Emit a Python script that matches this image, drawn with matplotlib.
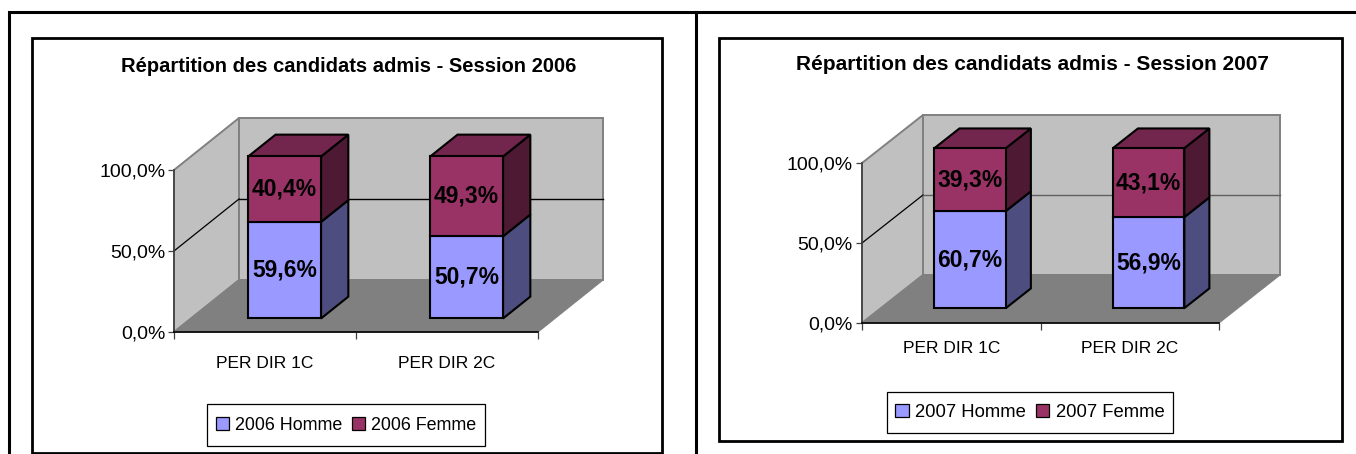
import matplotlib
matplotlib.use("Agg")
from matplotlib import pyplot as plt
from matplotlib.patches import Patch, Polygon, Rectangle

W, H = 1356, 454

categories = ["PER DIR 1C", "PER DIR 2C"]
homme_2006 = [59.6, 50.7]
femme_2006 = [40.4, 49.3]
homme_2007 = [60.7, 56.9]
femme_2007 = [39.3, 43.1]
y_ticks = [0, 50, 100]
y_tick_labels = ["0,0%", "50,0%", "100,0%"]

BLUE = "#9999FF"
BLUE_SIDE = "#4D4D80"
RED = "#993366"
RED_SIDE = "#4D1933"
RED_TOP = "#73264D"
WALL = "#C0C0C0"
FLOOR = "#808080"

plt.rcParams["font.family"] = ["Liberation Sans", "DejaVu Sans"]


def frac(x0, y0, x1, y1):
    # pixel box (y from the top) to figure fractions
    return [x0 / W, 1 - y1 / H, (x1 - x0) / W, (y1 - y0) / H]


class Oblique:
    """Fake 3D Excel look: depth d shifts a point right and up in data units."""
    def __init__(self, ax, dx, dy):
        self.ax = ax
        self.dx = dx
        self.dy = dy

    def pt(self, x, y, d):
        return (x + d * self.dx, y + d * self.dy)

    def poly(self, pts, color, ec="none", lw=0.0, z=1):
        xy = [self.pt(*p) for p in pts]
        self.ax.add_patch(Polygon(xy, closed=True, fc=color, ec=ec, lw=lw, zorder=z,
                                  clip_on=False, joinstyle="miter"))

    def bar(self, x0, x1, y0, y1, d0, d1, front, side, top=None, z=5):
        self.poly([(x1, y0, d0), (x1, y0, d1), (x1, y1, d1), (x1, y1, d0)], side, "black", 1.5, z)
        if top:
            self.poly([(x0, y1, d0), (x1, y1, d0), (x1, y1, d1), (x0, y1, d1)], top, "black", 1.5, z)
        self.poly([(x0, y0, d0), (x1, y0, d0), (x1, y1, d0), (x0, y1, d0)], front, "black", 1.5, z + 1)


def draw_chart(fig, bg, title, homme, femme, year, plot_box, depth_px, bar_depth, bar_left, title_xy,
               legend_box, grid_color, title_size, cat_pad, legend_size, y_pad):
    x0, y0, x1, y1 = plot_box
    ax = fig.add_axes(frac(x0, y0, x1, y1))
    ax.set_xlim(0, 2)
    ax.set_ylim(0, 100)
    ax.patch.set_alpha(0)
    ob = Oblique(ax, depth_px[0] / (x1 - x0) * 2, depth_px[1] / (y1 - y0) * 100)

    # walls, floor, gridline
    ob.poly([(0, 0, 0), (0, 0, 1), (0, 100, 1), (0, 100, 0)], WALL, FLOOR, 1.4, 1)
    ob.poly([(0, 0, 1), (2, 0, 1), (2, 100, 1), (0, 100, 1)], WALL, FLOOR, 1.4, 1)
    ob.poly([(0, 0, 0), (2, 0, 0), (2, 0, 1), (0, 0, 1)], FLOOR, FLOOR, 0.8, 2)
    gx = [ob.pt(0, 50, 0)[0], ob.pt(0, 50, 1)[0]]
    gy = [ob.pt(0, 50, 0)[1], ob.pt(0, 50, 1)[1]]
    ax.plot(gx, gy, color="black", lw=0.9, zorder=3, clip_on=False)
    bx = [ob.pt(0, 50, 1)[0], ob.pt(2, 50, 1)[0]]
    by = [ob.pt(0, 50, 1)[1], ob.pt(2, 50, 1)[1]]
    ax.plot(bx, by, color=grid_color, lw=1.0, zorder=3, clip_on=False)

    # stacked bars
    d0, d1 = bar_depth
    for i in range(len(categories)):
        left = i + bar_left
        right = left + 0.4
        ob.bar(left, right, 0, homme[i], d0, d1, BLUE, BLUE_SIDE, z=5)
        ob.bar(left, right, homme[i], homme[i] + femme[i], d0, d1, RED, RED_SIDE, RED_TOP, z=7)
        cx = ob.pt((left + right) / 2, 0, d0)[0]
        base = ob.pt(0, 0, d0)[1]
        for v, bottom in ((homme[i], 0), (femme[i], homme[i])):
            ax.text(cx, base + bottom + v / 2, f"{v:.1f}%".replace(".", ","), ha="center", va="center",
                    fontsize=16.5, fontweight="bold", color="black", zorder=10)

    # axes
    for s in ("top", "right"):
        ax.spines[s].set_visible(False)
    ax.spines["left"].set_color("#404040")
    ax.spines["left"].set_linewidth(1.2)
    ax.spines["bottom"].set_color("black")
    ax.spines["bottom"].set_linewidth(1.2)
    for s in ax.spines.values():
        s.set_zorder(4)
    ax.set_yticks(y_ticks)
    ax.set_yticklabels(y_tick_labels, fontsize=14)
    ax.set_xticks([0, 1, 2])
    ax.set_xticklabels([])
    ax.set_xticks([0.5, 1.5], minor=True)
    ax.set_xticklabels(categories, minor=True, fontsize=12.5)
    ax.tick_params(axis="x", which="minor", length=0, pad=cat_pad)
    ax.tick_params(axis="x", which="major", length=5, width=0.9, color="#404040")
    ax.tick_params(axis="y", length=4, width=0.9, pad=y_pad, color="#404040")

    fig.text(title_xy[0] / W, 1 - title_xy[1] / H, title, ha="center", va="center",
             fontsize=title_size, fontweight="bold", color="black")

    # legend box drawn behind, the legend itself keeps only its entries
    lx0, ly0, lx1, ly1 = legend_box
    bg.add_patch(Rectangle((lx0, ly0), lx1 - lx0, ly1 - ly0, fc="white", ec="black", lw=0.9))
    handles = [Patch(fc=BLUE, ec="black", lw=0.9, label=f"{year} Homme"),
               Patch(fc=RED, ec="black", lw=0.9, label=f"{year} Femme")]
    fig.legend(handles=handles, ncol=2, loc="center",
               bbox_to_anchor=((lx0 + lx1) / 2 / W, 1 - (ly0 + ly1) / 2 / H),
               fontsize=legend_size, frameon=False,
               handlelength=0.72, handleheight=0.72, handletextpad=0.35, columnspacing=0.55,
               borderaxespad=0, borderpad=0)


fig = plt.figure(figsize=(W / 100, H / 100), dpi=100, facecolor="white")

# page table lines and chart frames
bg = fig.add_axes([0, 0, 1, 1])
bg.set_xlim(0, W)
bg.set_ylim(H, 0)
bg.axis("off")
bg.plot([9, 9, W], [H, 12, 12], color="black", lw=2.2, solid_joinstyle="miter")
bg.plot([696, 696], [12, H], color="black", lw=2.2)
bg.add_patch(Rectangle((32, 38), 630, 415, fc="white", ec="black", lw=2))
bg.add_patch(Rectangle((719, 38), 623, 403, fc="white", ec="black", lw=2))

draw_chart(fig, bg, "Répartition des candidats admis - Session 2006", homme_2006, femme_2006, 2006,
           (174, 170, 538, 332), (65, 52), (0.26, 0.68), 0.315, (349, 66), (207, 404, 485, 446), "black",
           14.5, 17, 12.9, 2)
draw_chart(fig, bg, "Répartition des candidats admis - Session 2007", homme_2007, femme_2007, 2007,
           (862, 163, 1219, 323), (61, 48), (0.31, 0.72), 0.30, (1032, 64), (887, 392, 1173, 433), "#606060",
           15, 13, 13.3, 3)

fig.savefig("out.png", dpi=100)
